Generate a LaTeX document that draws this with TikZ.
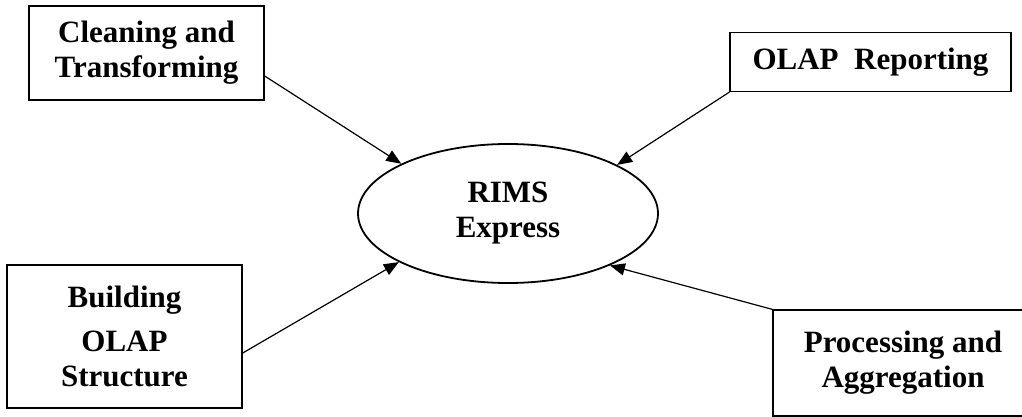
\documentclass[tikz,border=0pt]{standalone}
\usepackage{fontspec}
\setmainfont{Liberation Serif}
\usetikzlibrary{arrows.meta,shapes.geometric}
\begin{document}
\begin{tikzpicture}[x=1pt,y=-1pt,
  every node/.style={font=\fontsize{31}{35}\selectfont\bfseries, align=center, inner sep=0pt},
  procbox/.style={draw, line width=1.2pt, rectangle},
  hub/.style={draw, line width=1.8pt, ellipse, minimum width=300pt, minimum height=139pt},
  feed/.style={line width=1.2pt, -{Triangle[length=15pt,width=12pt]}}]
\useasboundingbox (0,0) rectangle (1022,417);

% central system
\node[hub] (rims) at (508,213.5) {RIMS\\Express};

% surrounding process steps
\node[procbox, minimum width=235pt, minimum height=94pt] (clean) at (146.5,53)
  {Cleaning and\\Transforming};
\node[procbox, minimum width=281pt, minimum height=59pt] (olap) at (870.5,62)
  {OLAP\ \ Reporting};
\node[procbox, minimum width=235pt, minimum height=143pt] (build) at (124.5,336.5)
  {Building\\[9pt]OLAP\\Structure};
\node[procbox, minimum width=260pt, minimum height=106pt] (proc) at (903,363)
  {Processing and\\Aggregation};

% flows into the hub
\draw[feed] (clean.-11) -- (rims.155.4);
\draw[feed] (olap.south west) -- (rims.24.7);
\draw[feed] (build.-8) -- (rims.204.6);
\draw[feed] (proc.north west) -- (rims.333.9);
\end{tikzpicture}
\end{document}
